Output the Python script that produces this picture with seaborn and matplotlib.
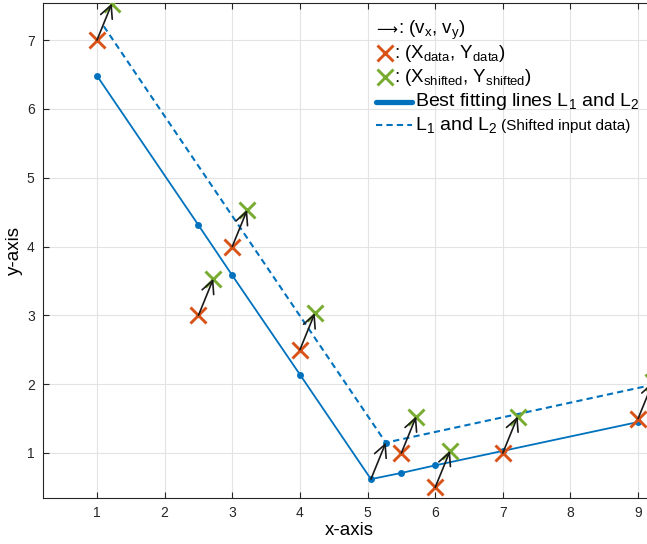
import matplotlib
matplotlib.use("Agg")
import matplotlib.pyplot as plt
import seaborn as sns
from matplotlib.lines import Line2D

# ---- data ----
x_data = [1, 2.5, 3, 4, 5.5, 6, 7, 9]
y_data = [7, 3, 4, 2.5, 1, 0.5, 1, 1.5]
x_shifted = [1.22, 2.72, 3.22, 4.22, 5.72, 6.22, 7.22, 9.22]
y_shifted = [7.53, 3.53, 4.53, 3.03, 1.53, 1.03, 1.53, 2.03]

fit_x = [1, 2.5, 3, 4, 5.05, 5.5, 6, 7, 9]
fit_y = [6.48, 4.31, 3.58, 2.14, 0.62, 0.71, 0.82, 1.03, 1.45]

vertex_x = [5.05]
vertex_y = [0.62]
vertex_shift_x = [5.27]
vertex_shift_y = [1.15]

dash_x = [1.10, 5.27, 9.40]
dash_y = [7.20, 1.15, 2.03]

x_ticks = [1, 2, 3, 4, 5, 6, 7, 8, 9]
y_ticks = [1, 2, 3, 4, 5, 6, 7]

BLUE = "#0072BD"
RED = "#D95319"
GREEN = "#77AC30"
DARK = "#262626"

sns.set_theme(style="white")
plt.rcParams["font.family"] = ["Liberation Sans", "DejaVu Sans"]
plt.rcParams["mathtext.fontset"] = "custom"
plt.rcParams["mathtext.rm"] = "Liberation Sans"

W, H = 647, 544
fig = plt.figure(figsize=(W / 100, H / 100), dpi=100)
fig.patch.set_facecolor("white")
ax = fig.add_axes([43 / W, 46 / H, (655 - 43) / W, (498 - 3) / H])
ax.set_facecolor("white")

ax.set_xlim(0.2015, 9.25)
ax.set_ylim(0.346, 7.538)
ax.set_xticks(x_ticks)
ax.set_yticks(y_ticks)
ax.grid(True, color="#e3e3e3", lw=0.8, zorder=0)
ax.set_axisbelow(True)
for s in ax.spines.values():
    s.set_color(DARK)
    s.set_linewidth(0.8)
ax.tick_params(axis="both", direction="in", length=4, width=0.8, color=DARK,
               labelcolor=DARK, labelsize=10, pad=6, top=True, right=True,
               bottom=True, left=True)

# best fitting lines
sns.lineplot(x=fit_x, y=fit_y, sort=False, estimator=None, color=BLUE, lw=1.3,
             marker="o", markersize=5, markeredgewidth=0, ax=ax, zorder=3)
# shifted lines (dashed)
sns.lineplot(x=dash_x, y=dash_y, sort=False, estimator=None, color=BLUE, lw=1.5,
             linestyle=(0, (3, 2)), ax=ax, zorder=3)
ax.plot(vertex_shift_x, vertex_shift_y, "o", color=BLUE, ms=5, mew=0, zorder=3)

# data markers
ax.plot(x_data, y_data, "x", color=RED, ms=12, mew=2.1, zorder=4, clip_on=True)
ax.plot(x_shifted, y_shifted, "x", color=GREEN, ms=12, mew=2.1, zorder=4, clip_on=True)

# arrows
for x0, y0, x1, y1 in zip(x_data + vertex_x, y_data + vertex_y,
                          x_shifted + vertex_shift_x, y_shifted + vertex_shift_y):
    ax.annotate("", xy=(x1, y1), xytext=(x0, y0),
                arrowprops=dict(arrowstyle="->,head_length=0.5,head_width=0.25",
                                color="#1a1a1a", lw=1.2, shrinkA=0, shrinkB=0,
                                mutation_scale=18),
                zorder=5, annotation_clip=False)

ax.set_xlabel("x-axis", fontsize=13.5, color="black", labelpad=1)
ax.set_ylabel("y-axis", fontsize=13.5, color="black", labelpad=3)

# legend (manual, no frame)
def fx(px):
    return px / W

def fy(py):
    return 1 - py / H

fs = 13.5
arr = fig.text(fx(376), fy(30), "\u27f6", fontsize=10.5, va="center", ha="left",
               color="black", family=["DejaVu Sans"])
fig.canvas.draw()
abb = arr.get_window_extent()
fig.text((abb.x1 + 0.5) / W, fy(30), r": ($\mathregular{v_x}$, $\mathregular{v_y}$)",
         fontsize=fs, va="center", ha="left", color="black")
fig.add_artist(Line2D([fx(385)], [fy(53)], marker="x", color=RED, ms=12, mew=2.1,
                      transform=fig.transFigure))
fig.text(fx(394), fy(53), r": ($\mathregular{X_{data}}$, $\mathregular{Y_{data}}$)",
         fontsize=fs, va="center", ha="left", color="black")
fig.add_artist(Line2D([fx(385)], [fy(77)], marker="x", color=GREEN, ms=12, mew=2.1,
                      transform=fig.transFigure))
fig.text(fx(394), fy(77), r": ($\mathregular{X_{shifted}}$, $\mathregular{Y_{shifted}}$)",
         fontsize=fs, va="center", ha="left", color="black")
fig.add_artist(Line2D([fx(376), fx(412)], [fy(102), fy(102)], color=BLUE, lw=3.8,
                      transform=fig.transFigure))
fig.text(fx(415), fy(102), r"Best fitting lines $\mathregular{L_1}$ and $\mathregular{L_2}$",
         fontsize=14, va="center", ha="left", color="black")
fig.add_artist(Line2D([fx(376), fx(412)], [fy(125), fy(125)], color=BLUE, lw=1.5,
                      linestyle=(0, (3, 2)), transform=fig.transFigure))
t = fig.text(fx(415), fy(125), r"$\mathregular{L_1}$ and $\mathregular{L_2}$",
             fontsize=14, va="center", ha="left", color="black")
fig.canvas.draw()
bb = t.get_window_extent()
fig.text((bb.x1 + 4) / W, fy(126), "(Shifted input data)", fontsize=11,
         va="center", ha="left", color="black")

fig.savefig("out.png", dpi=100, facecolor="white")
